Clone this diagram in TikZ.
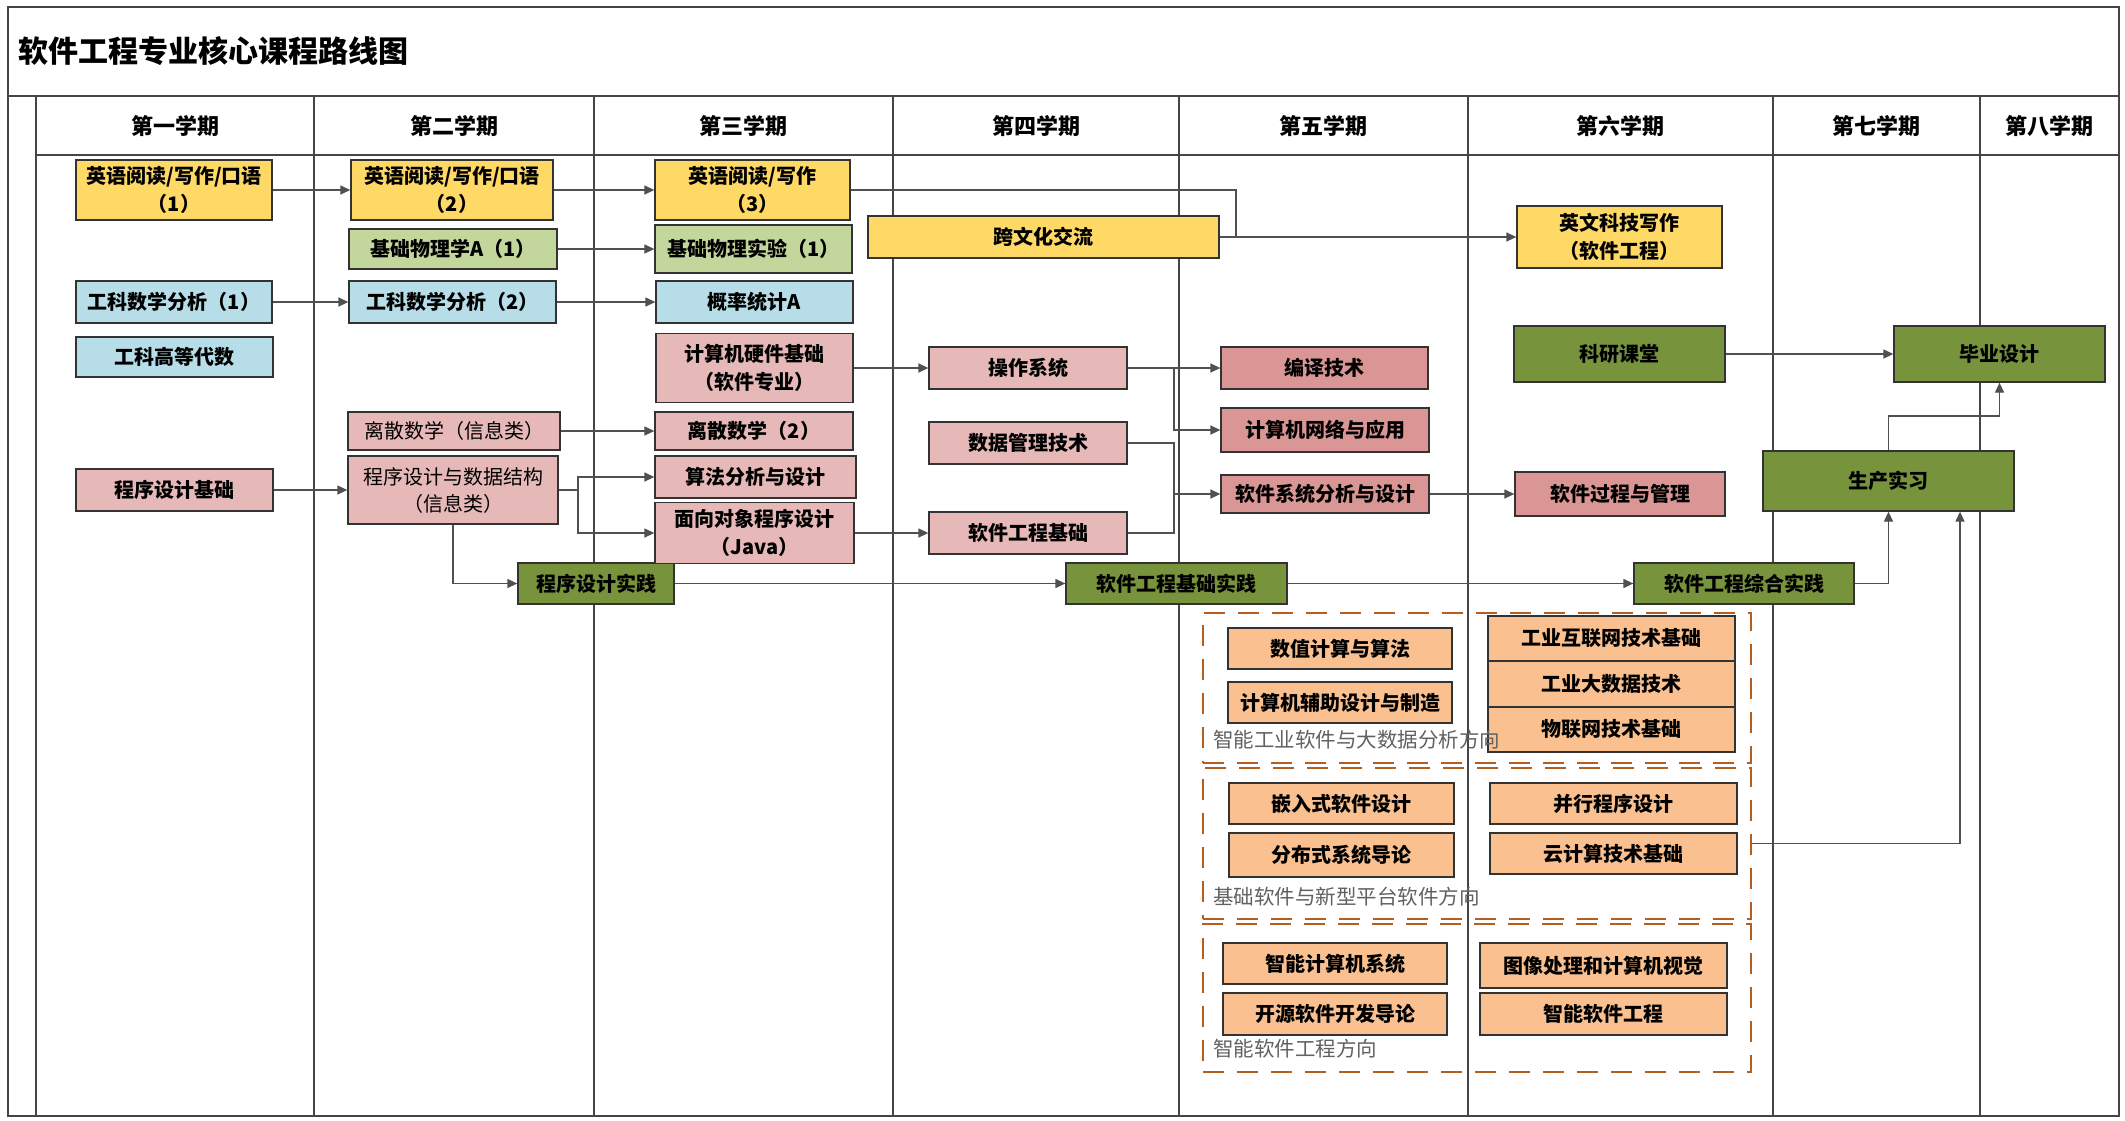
\documentclass[tikz,border=0pt]{standalone}
\usepackage{fontspec}
\newfontfamily\cjk{Noto Sans CJK SC}
\usetikzlibrary{arrows.meta,calc}
\definecolor{cyellow}{HTML}{FFD966}
\definecolor{cgreenl}{HTML}{C3D69B}
\definecolor{cblue}{HTML}{B7DEE8}
\definecolor{cpink}{HTML}{E6B9B8}
\definecolor{cred}{HTML}{D99694}
\definecolor{cgreen}{HTML}{77933C}
\definecolor{corange}{HTML}{FAC090}
\definecolor{cdash}{HTML}{B55F1F}
\definecolor{cgrid}{HTML}{454545}
\definecolor{cline}{HTML}{505050}
\begin{document}
\begin{tikzpicture}[x=1pt,y=-1pt,
  gridline/.style={draw=cgrid,line width=1.4pt},
  box/.style={draw=black!80,line width=1.3pt,inner sep=0pt,align=center,
    font=\cjk\bfseries\fontsize{20}{28}\selectfont},
  boxr/.style={box,font=\cjk\fontsize{20}{27}\selectfont},
  hdr/.style={font=\cjk\bfseries\fontsize{22}{26}\selectfont,inner sep=0pt},
  grp/.style={draw=cdash,line width=2.8pt,dash pattern=on 21pt off 13pt,inner sep=0pt},
  glabel/.style={font=\cjk\fontsize{20.5}{23}\selectfont,text=black!62,inner sep=0pt,anchor=west},
  conn/.style={draw=cline,line width=1.3pt},
  arr/.style={conn,-{Triangle[length=10pt,width=9pt]}},
]
% background / bounding box
\fill[white] (0,0) rectangle (2125,1120);
\useasboundingbox (0,0) rectangle (2125,1120);

% grid
\draw[gridline] (8,7) rectangle (2119,1116);
\draw[gridline] (8,96) -- (2119,96);
\draw[gridline] (36,155) -- (2119,155);
\foreach \x in {36,314,594,893,1179,1468,1773,1980}
  \draw[gridline] (\x,96) -- (\x,1116);

% title
\node[font=\cjk\bfseries\fontsize{30}{34}\selectfont,anchor=west,inner sep=0pt] (title) at (18,51) {软件工程专业核心课程路线图};

% headers
\node[hdr] (h1) at (175,126) {第一学期};
\node[hdr] (h2) at (454,126) {第二学期};
\node[hdr] (h3) at (743.5,126) {第三学期};
\node[hdr] (h4) at (1036,126) {第四学期};
\node[hdr] (h5) at (1323.5,126) {第五学期};
\node[hdr] (h6) at (1620.5,126) {第六学期};
\node[hdr] (h7) at (1876.5,126) {第七学期};
\node[hdr] (h8) at (2049.5,126) {第八学期};

% semester 1
\node[box,fill=cyellow,minimum width=196pt,minimum height=60pt] (e1) at (174,190) {英语阅读/写作/口语\\（1）};
\node[box,fill=cblue,minimum width=196pt,minimum height=42pt] (m1) at (174,302) {工科数学分析（1）};
\node[box,fill=cblue,minimum width=197pt,minimum height=40pt] (la) at (174.5,357) {工科高等代数};
\node[box,fill=cpink,minimum width=197pt,minimum height=42pt] (pf) at (174.5,490) {程序设计基础};

% semester 2
\node[box,fill=cyellow,minimum width=202pt,minimum height=60pt] (e2) at (452,190) {英语阅读/写作/口语\\（2）};
\node[box,fill=cgreenl,minimum width=208pt,minimum height=40pt] (phy) at (453,249) {基础物理学A（1）};
\node[box,fill=cblue,minimum width=207pt,minimum height=42pt] (m2) at (452.5,302) {工科数学分析（2）};
\node[boxr,fill=cpink,minimum width=212pt,minimum height=38pt] (dm1) at (454,431) {离散数学（信息类）};
\node[boxr,fill=cpink,minimum width=210pt,minimum height=68pt] (pds) at (453,490) {程序设计与数据结构\\（信息类）};
\node[box,fill=cgreen,minimum width=156pt,minimum height=41pt] (pp) at (596,583.5) {程序设计实践};

% semester 3
\node[box,fill=cyellow,minimum width=195pt,minimum height=60pt] (e3) at (752.5,190) {英语阅读/写作\\（3）};
\node[box,fill=cgreenl,minimum width=197pt,minimum height=48pt] (phyl) at (753.5,249) {基础物理实验（1）};
\node[box,fill=cblue,minimum width=197pt,minimum height=42pt] (prob) at (754.5,302) {概率统计A};
\node[box,fill=cpink,minimum width=197pt,minimum height=69pt] (hw) at (754.5,368) {计算机硬件基础\\（软件专业）};
\node[box,fill=cpink,minimum width=198pt,minimum height=38pt] (dm2) at (754,431) {离散数学（2）};
\node[box,fill=cpink,minimum width=201pt,minimum height=42pt] (algo) at (755.5,477) {算法分析与设计};
\node[box,fill=cpink,minimum width=199pt,minimum height=61pt] (oop) at (754.5,533) {面向对象程序设计\\（Java）};

% semester 4
\node[box,fill=cyellow,minimum width=351pt,minimum height=42pt] (cc) at (1043.5,237) {跨文化交流};
\node[box,fill=cpink,minimum width=198pt,minimum height=42pt] (os) at (1028,368) {操作系统};
\node[box,fill=cpink,minimum width=198pt,minimum height=42pt] (db) at (1028,443) {数据管理技术};
\node[box,fill=cpink,minimum width=198pt,minimum height=42pt] (se) at (1028,533) {软件工程基础};
\node[box,fill=cgreen,minimum width=221pt,minimum height=41pt] (sep) at (1176.5,583.5) {软件工程基础实践};

% semester 5
\node[box,fill=cred,minimum width=207pt,minimum height=42pt] (comp) at (1324.5,368) {编译技术};
\node[box,fill=cred,minimum width=208pt,minimum height=44pt] (net) at (1325,430) {计算机网络与应用};
\node[box,fill=cred,minimum width=208pt,minimum height=38pt] (sad) at (1325,494) {软件系统分析与设计};

% semester 6
\node[box,fill=cyellow,minimum width=205pt,minimum height=62pt] (ew) at (1619.5,237) {英文科技写作\\（软件工程）};
\node[box,fill=cgreen,minimum width=211pt,minimum height=56pt] (ky) at (1619.5,354) {科研课堂};
\node[box,fill=cred,minimum width=210pt,minimum height=44pt] (spm) at (1620,494) {软件过程与管理};
\node[box,fill=cgreen,minimum width=220pt,minimum height=41pt] (scp) at (1744,583.5) {软件工程综合实践};

% semester 7 / 8
\node[box,fill=cgreen,minimum width=251pt,minimum height=60pt] (sx) at (1888.5,481) {生产实习};
\node[box,fill=cgreen,minimum width=211pt,minimum height=56pt] (by) at (1999.5,354) {毕业设计};

% elective groups
\node[grp,minimum width=548pt,minimum height=150pt] (g1) at (1477,688) {};
\node[grp,minimum width=548pt,minimum height=151pt] (g2) at (1477,843.5) {};
\node[grp,minimum width=548pt,minimum height=148pt] (g3) at (1477,998) {};

\node[box,fill=corange,minimum width=224pt,minimum height=41pt] (n1) at (1340,648.5) {数值计算与算法};
\node[box,fill=corange,minimum width=224pt,minimum height=41pt] (n2) at (1340,702.5) {计算机辅助设计与制造};
\node[box,fill=corange,minimum width=247pt,minimum height=45pt] (n3) at (1611.5,638.5) {工业互联网技术基础};
\node[box,fill=corange,minimum width=247pt,minimum height=46pt] (n4) at (1611.5,684) {工业大数据技术};
\node[box,fill=corange,minimum width=247pt,minimum height=45pt] (n5) at (1611.5,729.5) {物联网技术基础};
\node[glabel] (l1) at (1213,740) {智能工业软件与大数据分析方向};

\node[box,fill=corange,minimum width=225pt,minimum height=41pt] (b1) at (1341.5,803.5) {嵌入式软件设计};
\node[box,fill=corange,minimum width=225pt,minimum height=44pt] (b2) at (1341.5,855) {分布式系统导论};
\node[box,fill=corange,minimum width=247pt,minimum height=41pt] (b3) at (1613.5,803.5) {并行程序设计};
\node[box,fill=corange,minimum width=247pt,minimum height=41pt] (b4) at (1613.5,853.5) {云计算技术基础};
\node[glabel] (l2) at (1213,897) {基础软件与新型平台软件方向};

\node[box,fill=corange,minimum width=224pt,minimum height=41pt] (s1) at (1335,963.5) {智能计算机系统};
\node[box,fill=corange,minimum width=224pt,minimum height=42pt] (s2) at (1335,1014) {开源软件开发导论};
\node[box,fill=corange,minimum width=247pt,minimum height=45pt] (s3) at (1603.5,965.5) {图像处理和计算机视觉};
\node[box,fill=corange,minimum width=247pt,minimum height=42pt] (s4) at (1603.5,1014) {智能软件工程};
\node[glabel] (l3) at (1213,1049) {智能软件工程方向};

% junctions
\coordinate (j1) at (578,490);
\coordinate (j2) at (1174,368);
\coordinate (j3) at (1174,494);
\coordinate (j4) at (1236,237);
\coordinate (j6) at (1999.5,416);

% connectors
\draw[arr] (e1) -- (e2);
\draw[arr] (e2) -- (e3);
\draw[arr] (phy) -- (phyl);
\draw[arr] (m1) -- (m2);
\draw[arr] (m2) -- (prob);
\draw[arr] (dm1) -- (dm2);
\draw[arr] (pf) -- (pds);
\draw[conn] (pds.east) -- (j1);
\draw[arr] (j1) |- (algo.west);
\draw[arr] (j1) |- (oop.west);
\draw[arr] (pds.south) |- (pp.west);
\draw[arr] (pp) -- (sep);
\draw[arr] (hw) -- (os);
\draw[arr] (oop) -- (se);
\draw[arr] (os) -- (comp);
\draw[arr] (j2) |- (net.west);
\draw[conn] (db.east) -| (j3);
\draw[conn] (se.east) -| (j3);
\draw[arr] (j3) -- (sad.west);
\draw[arr] (e3.east) -| (j4) -- (ew.west);
\draw[conn] (cc.east) -- (j4);
\draw[arr] (sad) -- (spm);
\draw[arr] (ky) -- (by);
\draw[arr] (sep) -- (scp);
\draw[arr] (scp.east) -| (sx.south);
\draw[arr] (sx.north) |- (j6) -- (by.south);
\draw[arr] (g2.east) -| ([xshift=71.5pt]sx.south);
\end{tikzpicture}
\end{document}
